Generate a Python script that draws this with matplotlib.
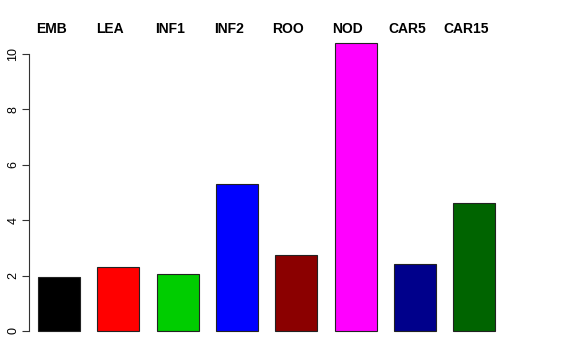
import matplotlib
matplotlib.use("Agg")
from matplotlib import pyplot as plt
import numpy as np

# datos
categorias = ["EMB", "LEA", "INF1", "INF2", "ROO", "NOD", "CAR5", "CAR15"]
valores = [1.95, 2.30, 2.06, 5.30, 2.74, 10.41, 2.43, 4.61]
colores = ["#000000", "#FF0000", "#00CD00", "#0000FF", "#8B0000", "#FF00FF", "#00008B", "#006400"]
yticks = [0, 2, 4, 6, 8, 10]

plt.rcParams['font.family'] = ['Liberation Sans', 'DejaVu Sans']

fig = plt.figure(figsize=(5.76, 3.6), dpi=100)
ax = fig.add_axes([29/576, 17.5/360, 475/576, 311.5/360])

x = np.arange(len(categorias))
ax.bar(x, valores, width=0.708, color=colores, edgecolor="#222222", linewidth=0.8)

ax.set_xlim(-0.506, 7.504)
ax.set_ylim(-0.416, 10.83)

# etiquetas arriba
for i, nombre in enumerate(categorias):
    ax.text(i - 0.135, 10.9, nombre, ha='center', va='center',
            fontsize=10, fontweight='bold')

ax.set_yticks(yticks)
ax.set_yticklabels([str(t) for t in yticks], rotation=90, va='center', fontsize=9)
ax.tick_params(axis='y', length=5, width=0.8, pad=2, color="#333333")
ax.set_xticks([])

ax.spines['top'].set_visible(False)
ax.spines['right'].set_visible(False)
ax.spines['bottom'].set_visible(False)
ax.spines['left'].set_bounds(0, 10)
ax.spines['left'].set_linewidth(0.8)
ax.spines['left'].set_color("#333333")

fig.savefig("out.png", dpi=100)
